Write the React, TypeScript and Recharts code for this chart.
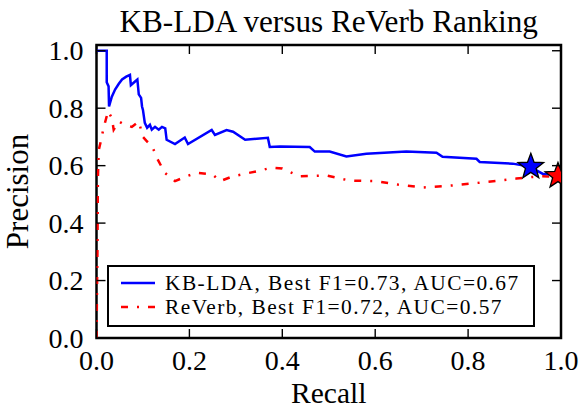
import {
  ComposedChart,
  Line,
  Scatter,
  XAxis,
  YAxis,
  ReferenceArea,
  Legend,
} from "recharts";

const FONT = '"Liberation Serif", "DejaVu Serif", serif';
const BLUE = "#0000ff";
const RED = "#ff0000";

// plot box edges (px), used for the mirrored ticks and the star clip
const PLOT_TOP = 45;
const PLOT_LEFT = 96.5;
const PLOT_RIGHT = 561;
const PLOT_BOTTOM = 338;

const TITLE = "KB-LDA versus ReVerb Ranking";
const X_LABEL = "Recall";
const Y_LABEL = "Precision";
const TICKS = [0, 0.2, 0.4, 0.6, 0.8, 1.0];

const KB_LDA_RECALL = [
  0, 0.022, 0.022, 0.026, 0.027, 0.033, 0.04, 0.048, 0.055, 0.064, 0.072, 0.074, 0.083, 0.088,
  0.091, 0.096, 0.098, 0.1, 0.104, 0.109, 0.115, 0.119, 0.126, 0.134, 0.141, 0.148, 0.151, 0.169,
  0.19, 0.197, 0.248, 0.255, 0.28, 0.294, 0.32, 0.369, 0.373, 0.395, 0.459, 0.47, 0.502, 0.538,
  0.581, 0.667, 0.732, 0.745, 0.818, 0.825, 0.896, 0.932, 0.96, 1.0,
];
const KB_LDA_PRECISION = [
  1.0, 1.0, 0.89, 0.876, 0.806, 0.84, 0.865, 0.885, 0.9, 0.91, 0.916, 0.88, 0.893, 0.9,
  0.848, 0.836, 0.806, 0.794, 0.749, 0.732, 0.742, 0.725, 0.735, 0.725, 0.735, 0.73, 0.69, 0.675,
  0.698, 0.675, 0.724, 0.707, 0.724, 0.718, 0.69, 0.697, 0.665, 0.667, 0.665, 0.649, 0.649, 0.632,
  0.641, 0.649, 0.645, 0.631, 0.624, 0.613, 0.607, 0.597, 0.572, 0.569,
];

const REVERB_RECALL = [
  0, 0.002, 0.003, 0.005, 0.01, 0.015, 0.025, 0.033, 0.037, 0.048, 0.061, 0.076, 0.091, 0.1,
  0.109, 0.12, 0.13, 0.147, 0.169, 0.194, 0.215, 0.25, 0.266, 0.294, 0.344, 0.377, 0.4, 0.437,
  0.495, 0.545, 0.603, 0.649, 0.702, 0.767, 0.832, 0.904, 0.954, 0.992, 1.0,
];
const REVERB_PRECISION = [
  0, 0.3, 0.557, 0.655, 0.69, 0.73, 0.79, 0.766, 0.725, 0.754, 0.742, 0.735, 0.754, 0.7,
  0.684, 0.667, 0.627, 0.575, 0.546, 0.563, 0.575, 0.569, 0.546, 0.563, 0.58, 0.593, 0.59, 0.563,
  0.566, 0.548, 0.546, 0.534, 0.524, 0.531, 0.542, 0.555, 0.563, 0.562, 0.565,
];

const KB_LDA_BEST = { x: 0.935, y: 0.596 };
const REVERB_BEST = { x: 0.9935, y: 0.564 };

const LEGEND_ITEMS = [
  { label: "KB-LDA, Best F1=0.73, AUC=0.67", color: BLUE, dash: undefined },
  { label: "ReVerb, Best F1=0.72, AUC=0.57", color: RED, dash: "7 9 2 9" },
];

const kbData = KB_LDA_RECALL.map((x, i) => ({ x, y: KB_LDA_PRECISION[i] }));
const reverbData = REVERB_RECALL.map((x, i) => ({ x, y: REVERB_PRECISION[i] }));

const fmt = (v: number) => v.toFixed(1);

function starShape(color: string, id: string) {
  return (props: any) => {
    const { cx, cy } = props;
    const pts: string[] = [];
    for (let i = 0; i < 10; i++) {
      const r = i % 2 === 0 ? 13.5 : 5.6;
      const a = -Math.PI / 2 + (i * Math.PI) / 5;
      pts.push(`${cx + r * Math.cos(a)},${cy + r * Math.sin(a)}`);
    }
    return (
      <g>
        <defs>
          <clipPath id={id}>
            <rect x={PLOT_LEFT} y={PLOT_TOP} width={PLOT_RIGHT - PLOT_LEFT} height={PLOT_BOTTOM - PLOT_TOP} />
          </clipPath>
        </defs>
        <polygon
          points={pts.join(" ")}
          fill={color}
          stroke="#000"
          strokeWidth={1.3}
          clipPath={`url(#${id})`}
        />
      </g>
    );
  };
}

const BottomTick = (props: any) => {
  const { x, y, payload } = props;
  return (
    <g>
      <line x1={x} x2={x} y1={y} y2={y - 9} stroke="#000" strokeWidth={1.4} />
      <line x1={x} x2={x} y1={PLOT_TOP} y2={PLOT_TOP + 9} stroke="#000" strokeWidth={1.4} />
      <text x={x} y={y + 32} textAnchor="middle" fontSize={28} fontFamily={FONT} fill="#000">
        {fmt(payload.value)}
      </text>
    </g>
  );
};

const LeftTick = (props: any) => {
  const { x, y, payload } = props;
  return (
    <g>
      <line x1={x} x2={x + 9} y1={y} y2={y} stroke="#000" strokeWidth={1.4} />
      <line x1={PLOT_RIGHT} x2={PLOT_RIGHT - 9} y1={y} y2={y} stroke="#000" strokeWidth={1.4} />
      <text x={x - 13} y={y + 9.5} textAnchor="end" fontSize={28} fontFamily={FONT} fill="#000">
        {fmt(payload.value)}
      </text>
    </g>
  );
};

const renderLegend = () => (
  <div
    style={{
      position: "relative",
      width: 428,
      height: 62,
      boxSizing: "border-box",
      border: "2.5px solid #000",
      background: "#fff",
      fontFamily: FONT,
    }}
  >
    {LEGEND_ITEMS.map((item, i) => (
      <div
        key={item.label}
        style={{ position: "absolute", left: 0, top: 4 + i * 24, height: 24, width: 420 }}
      >
        <svg width={40} height={24} style={{ position: "absolute", left: 12, top: 0 }}>
          <line
            x1={0}
            x2={34}
            y1={12}
            y2={12}
            stroke={item.color}
            strokeWidth={2.5}
            strokeDasharray={item.dash}
          />
        </svg>
        <div
          style={{
            position: "absolute",
            left: 56,
            top: 0,
            height: 24,
            fontSize: 21.4,
            letterSpacing: 1.45,
            lineHeight: "24px",
            whiteSpace: "nowrap",
            color: "#000",
          }}
        >
          {item.label}
        </div>
      </div>
    ))}
  </div>
);

export default function App() {
  return (
    <div style={{ position: "absolute", left: 0, top: 0, width: 581, height: 409, background: "#fff" }}>
      <ComposedChart width={581} height={409} margin={{ top: PLOT_TOP, right: 581 - PLOT_RIGHT, bottom: 0, left: 0 }}>
        <XAxis
          xAxisId="b"
          dataKey="x"
          type="number"
          domain={[0, 1]}
          ticks={TICKS}
          allowDataOverflow
          height={409 - PLOT_BOTTOM}
          axisLine={false}
          tickLine={false}
          tickSize={0}
          tickMargin={0}
          tick={<BottomTick />}
          interval={0}
          label={{
            content: (p: any) => {
              const vb = p.viewBox;
              const cx = vb.x + vb.width / 2;
              return (
                <g>
                  <text x={cx} y={403} textAnchor="middle" fontSize={29.5} fontFamily={FONT} fill="#000">
                    {X_LABEL}
                  </text>
                  <text x={cx} y={32} textAnchor="middle" fontSize={31.2} fontFamily={FONT} fill="#000">
                    {TITLE}
                  </text>
                </g>
              );
            },
          }}
        />
        <YAxis
          yAxisId="l"
          dataKey="y"
          type="number"
          domain={[0, 1.02]}
          ticks={TICKS}
          allowDataOverflow
          width={PLOT_LEFT}
          axisLine={false}
          tickLine={false}
          tickSize={0}
          tickMargin={0}
          tick={<LeftTick />}
          interval={0}
          label={{
            content: (p: any) => {
              const vb = p.viewBox;
              const cy = vb.y + vb.height / 2;
              return (
                <text
                  transform={`translate(28, ${cy}) rotate(-90)`}
                  x={0}
                  y={0}
                  textAnchor="middle"
                  fontSize={31}
                  fontFamily={FONT}
                  fill="#000"
                >
                  {Y_LABEL}
                </text>
              );
            },
          }}
        />
        <Line
          xAxisId="b"
          yAxisId="l"
          data={reverbData}
          dataKey="y"
          type="linear"
          stroke={RED}
          strokeWidth={2.5}
          strokeDasharray="7 9 2 9"
          dot={false}
          activeDot={false}
          isAnimationActive={false}
        />
        <Line
          xAxisId="b"
          yAxisId="l"
          data={kbData}
          dataKey="y"
          type="linear"
          stroke={BLUE}
          strokeWidth={2.5}
          dot={false}
          activeDot={false}
          isAnimationActive={false}
        />
        <Scatter
          xAxisId="b"
          yAxisId="l"
          data={[KB_LDA_BEST]}
          shape={starShape(BLUE, "clip-kb")}
          isAnimationActive={false}
        />
        <Scatter
          xAxisId="b"
          yAxisId="l"
          data={[REVERB_BEST]}
          shape={starShape(RED, "clip-rv")}
          isAnimationActive={false}
        />
        <ReferenceArea
          xAxisId="b"
          yAxisId="l"
          x1={0}
          x2={1}
          y1={0}
          y2={1.02}
          fill="none"
          fillOpacity={0}
          stroke="#000"
          strokeWidth={2.5}
          ifOverflow="visible"
        />
        <Legend
          content={renderLegend}
          layout="horizontal"
          verticalAlign="middle"
          align="center"
          wrapperStyle={{ left: 107, top: 265, width: 428, height: 62 }}
        />
      </ComposedChart>
    </div>
  );
}
